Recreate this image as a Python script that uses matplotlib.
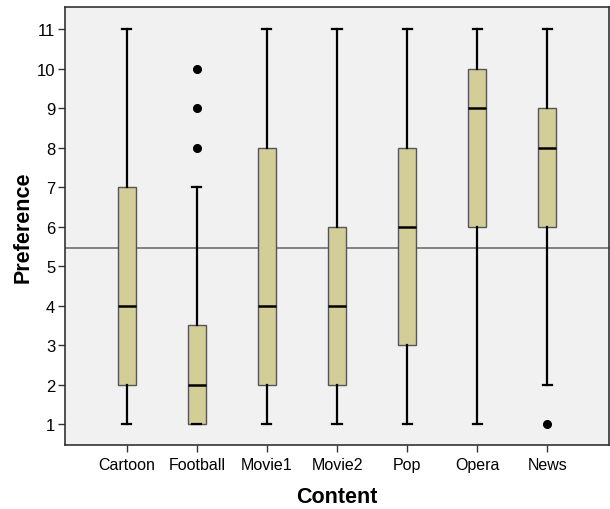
import matplotlib
matplotlib.use("Agg")
import matplotlib.pyplot as plt

plt.rcParams['font.family'] = ['Liberation Sans', 'DejaVu Sans']

categories = ["Cartoon", "Football", "Movie1", "Movie2", "Pop", "Opera", "News"]
whisker_low = [1, 1, 1, 1, 1, 1, 2]
q1 = [2, 1, 2, 2, 3, 6, 6]
median = [4, 2, 4, 4, 6, 9, 8]
q3 = [7, 3.5, 8, 6, 8, 10, 9]
whisker_high = [11, 7, 11, 11, 11, 11, 11]
outliers = [[], [8, 9, 10], [], [], [], [], [1]]
grand_mean = 5.45

stats = []
for i, name in enumerate(categories):
    stats.append({
        "label": name,
        "whislo": whisker_low[i],
        "q1": q1[i],
        "med": median[i],
        "q3": q3[i],
        "whishi": whisker_high[i],
        "fliers": outliers[i],
    })

fig = plt.figure(figsize=(6.1, 5.1), dpi=100)
ax = fig.add_axes([0.1066, 0.1255, 0.8918, 0.8585])
ax.set_facecolor("#F0F1F0")

ax.axhline(grand_mean, color="#6E6E6E", linewidth=1.2, zorder=1)

ax.bxp(stats, positions=range(1, len(categories) + 1), widths=0.26,
       patch_artist=True, manage_ticks=False,
       boxprops=dict(facecolor="#D3CE98", edgecolor="#555555", linewidth=1.0),
       medianprops=dict(color="black", linewidth=1.8),
       whiskerprops=dict(color="black", linewidth=1.6),
       capprops=dict(color="black", linewidth=1.6),
       capwidths=0.13,
       flierprops=dict(marker="o", markerfacecolor="black", markeredgecolor="black",
                       markersize=5.5, linestyle="none"),
       zorder=2)

ax.set_xlim(0.12, 7.88)
ax.set_ylim(0.47, 11.56)
ax.set_xticks(range(1, len(categories) + 1))
ax.set_xticklabels(categories, fontsize=11.5)
ax.set_yticks(range(1, 12))
ax.set_yticklabels([str(v) for v in range(1, 12)], fontsize=12)
ax.tick_params(direction="out", length=5, width=1, color="#333333")
ax.tick_params(axis="y", pad=2)

for s in ax.spines.values():
    s.set_color("#333333")
    s.set_linewidth(1.2)

ax.set_xlabel("Content", fontsize=15.5, fontweight="bold", labelpad=10)
ax.set_ylabel("Preference", fontsize=15.5, fontweight="bold", labelpad=2)

fig.savefig("out.png", dpi=100)
